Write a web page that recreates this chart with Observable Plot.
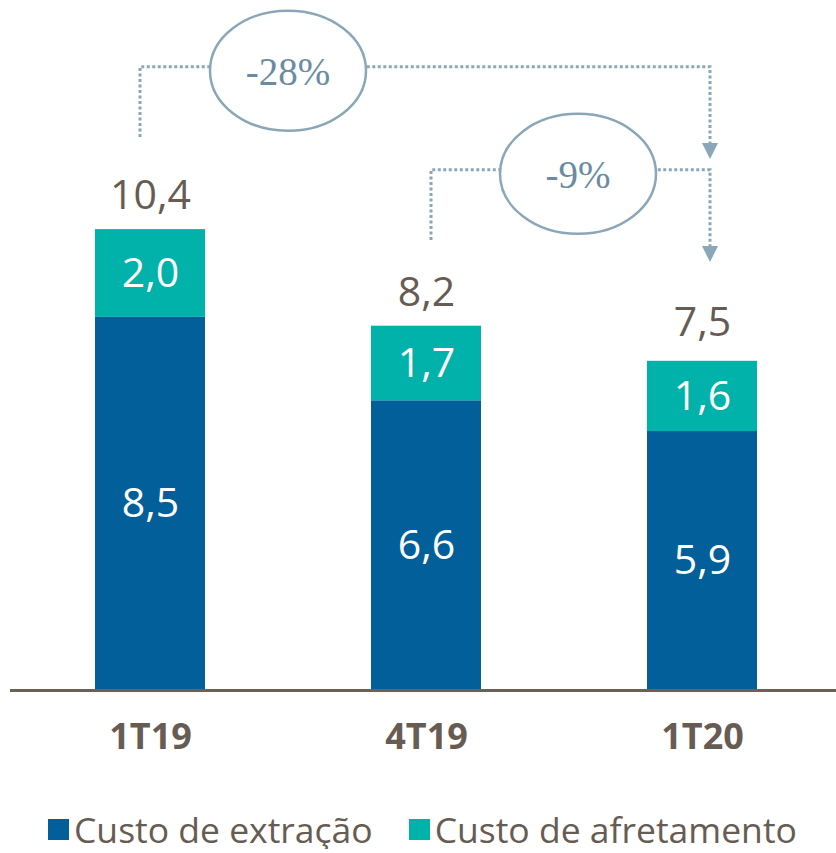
<!DOCTYPE html>
<html>
<head>
<meta charset="utf-8">
<script src="https://cdn.jsdelivr.net/npm/d3@7"></script>
<script src="https://cdn.jsdelivr.net/npm/@observablehq/plot@0.6"></script>
<style>
  body { margin: 0; background: white; font-family: "Open Sans", sans-serif; }
  #legend { display: flex; align-items: center; height: 40px; line-height: 1.2; margin-top: 34px; padding-left: 48px; font-size: 35.5px; color: #675c53; white-space: nowrap; }
  #legend .item { display: flex; align-items: center; margin-right: 36px; }
  #legend .sw { width: 21px; height: 21px; margin-right: 5px; flex: none; }
</style>
</head>
<body>
<div id="chart"></div>
<div id="legend"></div>
<script>
const categories = ["1T19", "4T19", "1T20"];
const series = ["Custo de extração", "Custo de afretamento"];
const extracao = [8.5, 6.6, 5.9];
const afretamento = [2.0, 1.7, 1.6];
const totals = [10.4, 8.2, 7.5];
const colors = ["#035f99", "#00b2aa"];
const changeFrom = ["1T19", "4T19"];
const changeTo = ["1T20", "1T20"];
const changeLabels = ["-28%", "-9%"];
const changeLevel = [14.2, 11.85];
const changeStart = [12.6, 10.25];
const changeTip = [12.1, 9.75];

const fmt = v => v.toFixed(1).replace(".", ",");

const rows = categories.flatMap((c, i) => [
  {cat: c, series: series[0], value: extracao[i]},
  {cat: c, series: series[1], value: afretamento[i]}
]);

const annColor = "#8aa7b8";
function annotations(index, scales) {
  const {x, y} = scales;
  const step = x(categories[1]) - x(categories[0]);
  const bw = x.bandwidth ? x.bandwidth() : step * 0.4;
  const cx = c => x(c) + bw / 2;
  const g = d3.create("svg:g");
  const fromDx = [-10, 5];
  const ellDx = [0, 14];
  changeFrom.forEach((f, i) => {
    const x0 = cx(f) + fromDx[i];
    const x1 = cx(changeTo[i]) + 8;
    const yTop = y(changeLevel[i]);
    const y0 = y(changeStart[i]);
    const yTip = y(changeTip[i]);
    g.append("path")
      .attr("d", `M${x0},${y0}V${yTop}H${x1}V${yTip - 12}`)
      .attr("fill", "none").attr("stroke", annColor)
      .attr("stroke-width", 3).attr("stroke-dasharray", "3 2.5");
    g.append("path")
      .attr("d", `M${x1 - 8},${yTip - 16}L${x1 + 8},${yTip - 16}L${x1},${yTip}Z`)
      .attr("fill", annColor);
    const ex = cx(f) + step / 2 + ellDx[i];
    const ey = yTop + 4;
    g.append("ellipse")
      .attr("cx", ex).attr("cy", ey).attr("rx", 78).attr("ry", 60)
      .attr("fill", "white").attr("stroke", annColor).attr("stroke-width", 2.5);
    g.append("text")
      .attr("x", ex).attr("y", ey)
      .attr("text-anchor", "middle").attr("dy", "0.36em")
      .attr("font-family", "Liberation Sans Narrow")
      .attr("font-size", 39).attr("fill", "#6a8ca2")
      .text(changeLabels[i]);
  });
  return g.node();
}

const chart = Plot.plot({
  width: 836,
  height: 775,
  marginTop: 0,
  marginBottom: 85,
  marginLeft: 16,
  marginRight: 0,
  style: {fontFamily: "Open Sans", background: "white", overflow: "visible"},
  x: {domain: categories, paddingInner: 0.6, paddingOuter: 0.283, axis: null},
  y: {domain: [0, 15.72], axis: null},
  color: {domain: series, range: colors},
  marks: [
    Plot.barY(rows, {x: "cat", y: "value", fill: "series"}),
    Plot.text(rows, Plot.stackY({x: "cat", y: "value", z: "series", text: d => fmt(d.value), fill: "white", fontSize: 41})),
    Plot.text(categories, {x: d => d, y: (d, i) => totals[i], text: (d, i) => fmt(totals[i]), dy: -38, fill: "#675c53", fontSize: 41}),
    Plot.ruleY([0], {stroke: "#6b6158", strokeWidth: 3, insetLeft: -6}),
    Plot.text(categories, {x: d => d, y: 0, dy: 47, text: d => d, fontSize: 36, fontWeight: "bold", fill: "#675c53"}),
    annotations
  ]
});
document.getElementById("chart").appendChild(chart);

const legend = document.getElementById("legend");
series.forEach((s, i) => {
  const item = document.createElement("div");
  item.className = "item";
  const sw = document.createElement("div");
  sw.className = "sw";
  sw.style.background = colors[i];
  const t = document.createElement("span");
  t.textContent = s;
  item.appendChild(sw);
  item.appendChild(t);
  legend.appendChild(item);
});
</script>
</body>
</html>
